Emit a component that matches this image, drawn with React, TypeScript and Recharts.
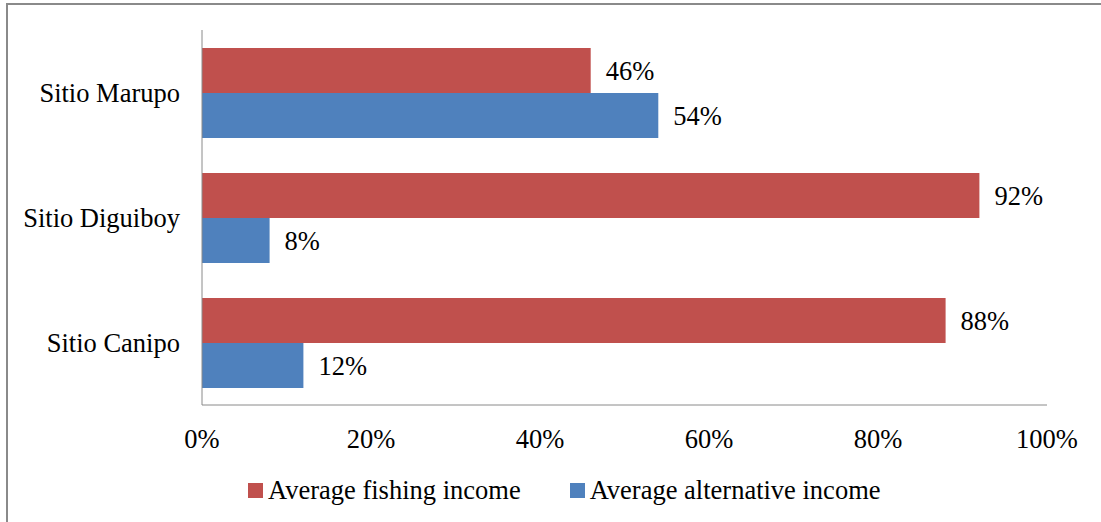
import React from "react";
import { BarChart, Bar, XAxis, YAxis, LabelList } from "recharts";

const categories = ["Sitio Marupo", "Sitio Diguiboy", "Sitio Canipo"];
const fishingIncome = [0.46, 0.92, 0.88];
const alternativeIncome = [0.54, 0.08, 0.12];
const xTicks = [0, 0.2, 0.4, 0.6, 0.8, 1];

const seriesNames = ["Average fishing income", "Average alternative income"];
const colors = ["#C0504D", "#4F81BD"];

const data = categories.map((name, i) => ({
  name,
  fishing: fishingIncome[i],
  alternative: alternativeIncome[i],
}));

const FONT = "Liberation Serif";
const FS = 26.5;
const pct = (v: number) => `${Math.round(v * 100)}%`;

export default function App() {
  return (
    <div style={{ position: "absolute", left: 0, top: 0, width: 1101, height: 522, background: "#fff", fontFamily: FONT }}>
      <div
        style={{
          position: "absolute",
          left: 6,
          top: 3,
          width: 1095,
          height: 519,
          borderTop: "2px solid #8a8a8a",
          borderLeft: "2px solid #8a8a8a",
          boxSizing: "border-box",
        }}
      />
      <BarChart
        width={1101}
        height={522}
        data={data}
        layout="vertical"
        margin={{ top: 30, right: 54, left: 0, bottom: 0 }}
        barSize={45}
        barGap={0}
        style={{ position: "absolute", left: 0, top: 0, fontFamily: FONT }}
      >
        <XAxis
          type="number"
          domain={[0, 1]}
          ticks={xTicks}
          tickFormatter={pct}
          height={117}
          tickLine={false}
          tickSize={0}
          tickMargin={24}
          axisLine={{ stroke: "#8a8a8a", strokeWidth: 1 }}
          tick={{ fill: "#000", fontSize: FS, fontFamily: FONT }}
          interval={0}
        />
        <YAxis
          type="category"
          dataKey="name"
          width={202}
          tickLine={false}
          tickSize={0}
          tickMargin={22}
          axisLine={{ stroke: "#8a8a8a", strokeWidth: 1 }}
          tick={{ fill: "#000", fontSize: FS, fontFamily: FONT }}
          interval={0}
        />
        <Bar dataKey="fishing" name={seriesNames[0]} fill={colors[0]} isAnimationActive={false}>
          <LabelList dataKey="fishing" position="right" offset={15} formatter={(v: any) => pct(Number(v))} fill="#000" fontSize={FS} fontFamily={FONT} />
        </Bar>
        <Bar dataKey="alternative" name={seriesNames[1]} fill={colors[1]} isAnimationActive={false}>
          <LabelList dataKey="alternative" position="right" offset={15} formatter={(v: any) => pct(Number(v))} fill="#000" fontSize={FS} fontFamily={FONT} />
        </Bar>
      </BarChart>
      <div style={{ position: "absolute", left: 248, top: 476, height: 28, display: "flex", alignItems: "center", fontSize: FS, fontFamily: FONT, color: "#000", whiteSpace: "nowrap", lineHeight: "28px" }}>
        {seriesNames.map((s, i) => (
          <div key={s} style={{ display: "flex", alignItems: "center", marginRight: i === 0 ? 49 : 0 }}>
            <div style={{ width: 15, height: 15, background: colors[i], marginRight: 5 }} />
            <span>{s}</span>
          </div>
        ))}
      </div>
    </div>
  );
}
